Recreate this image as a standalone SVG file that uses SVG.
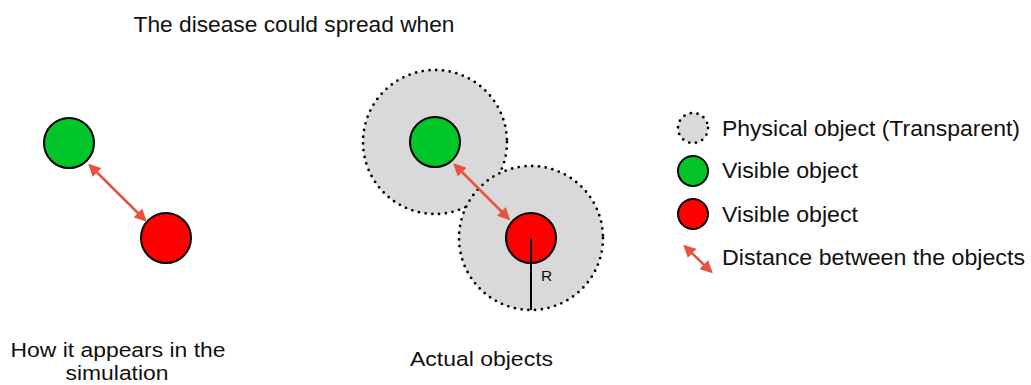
<svg xmlns="http://www.w3.org/2000/svg" width="1031" height="385" viewBox="0 0 1031 385">
  <style>
    .label { font-family: "Liberation Sans", Arial, sans-serif; font-size: 21.5px; fill: #111; }
    .caption { font-family: "Liberation Sans", Arial, sans-serif; font-size: 20.5px; fill: #111; }
    .green { fill: #00c62a; stroke: #000; stroke-width: 2; }
    .red { fill: #ff0000; stroke: #000; stroke-width: 2; }
    .physical { fill: #d9d9d9; stroke: #000; stroke-width: 2.8; stroke-dasharray: 0 6.8; stroke-linecap: round; }
    .dist { stroke: #e8523f; stroke-width: 2.5; fill: none; marker-start: url(#head); marker-end: url(#head); }
  </style>
  <defs>
    <marker id="head" viewBox="0 0 10 10" refX="8" refY="5" markerWidth="5" markerHeight="5" orient="auto-start-reverse" markerUnits="strokeWidth">
      <path d="M0,0 L10,5 L0,10 z" fill="#e8523f"/>
    </marker>
  </defs>

  <text class="label" x="294" y="32" text-anchor="middle" textLength="321" lengthAdjust="spacingAndGlyphs">The disease could spread when</text>

  <!-- Simulation view -->
  <g id="sim-green"><circle class="green" cx="69" cy="143" r="25"/></g>
  <g id="sim-red"><circle class="red" cx="166" cy="238" r="25"/></g>
  <text class="caption" x="118" y="357" text-anchor="middle" textLength="215" lengthAdjust="spacingAndGlyphs">How it appears in the</text>
  <text class="caption" x="117" y="380" text-anchor="middle" textLength="103" lengthAdjust="spacingAndGlyphs">simulation</text>

  <!-- Actual objects view -->
  <g id="phys-1"><circle class="physical" cx="435" cy="142" r="72"/></g>
  <g id="phys-2"><circle class="physical" cx="531" cy="238" r="72"/></g>
  <g id="act-green"><circle class="green" cx="435" cy="142" r="25"/></g>
  <g id="act-red"><circle class="red" cx="531" cy="238" r="25"/></g>
  <g id="radius">
    <line x1="531" y1="238" x2="531" y2="310" stroke="#000" stroke-width="2"/>
    <text x="541" y="281" font-family="Liberation Sans, Arial, sans-serif" font-size="15.5" fill="#111">R</text>
  </g>
  <text class="caption" x="481.5" y="366" text-anchor="middle" textLength="143" lengthAdjust="spacingAndGlyphs">Actual objects</text>

  <!-- Legend -->
  <g id="legend">
    <circle class="physical" cx="693" cy="128" r="15" stroke-width="1.8" stroke-dasharray="0 3.8"/>
    <text class="label" x="722" y="136" textLength="298" lengthAdjust="spacingAndGlyphs">Physical object (Transparent)</text>
    <circle class="green" cx="693" cy="171" r="15" stroke-width="1.5"/>
    <text class="label" x="722" y="178" textLength="136" lengthAdjust="spacingAndGlyphs">Visible object</text>
    <circle class="red" cx="693" cy="214" r="15" stroke-width="1.5"/>
    <text class="label" x="722" y="222" textLength="136" lengthAdjust="spacingAndGlyphs">Visible object</text>
    <line class="dist" x1="685" y1="246.5" x2="711" y2="271.5"/>
    <text class="label" x="722" y="265" textLength="303" lengthAdjust="spacingAndGlyphs">Distance between the objects</text>
  </g>

  <!-- Distance connectors -->
  <g id="connectors">
    <line class="dist" x1="90" y1="165.5" x2="145" y2="220"/>
    <line class="dist" x1="455" y1="165" x2="508.5" y2="218.5"/>
  </g>
</svg>
